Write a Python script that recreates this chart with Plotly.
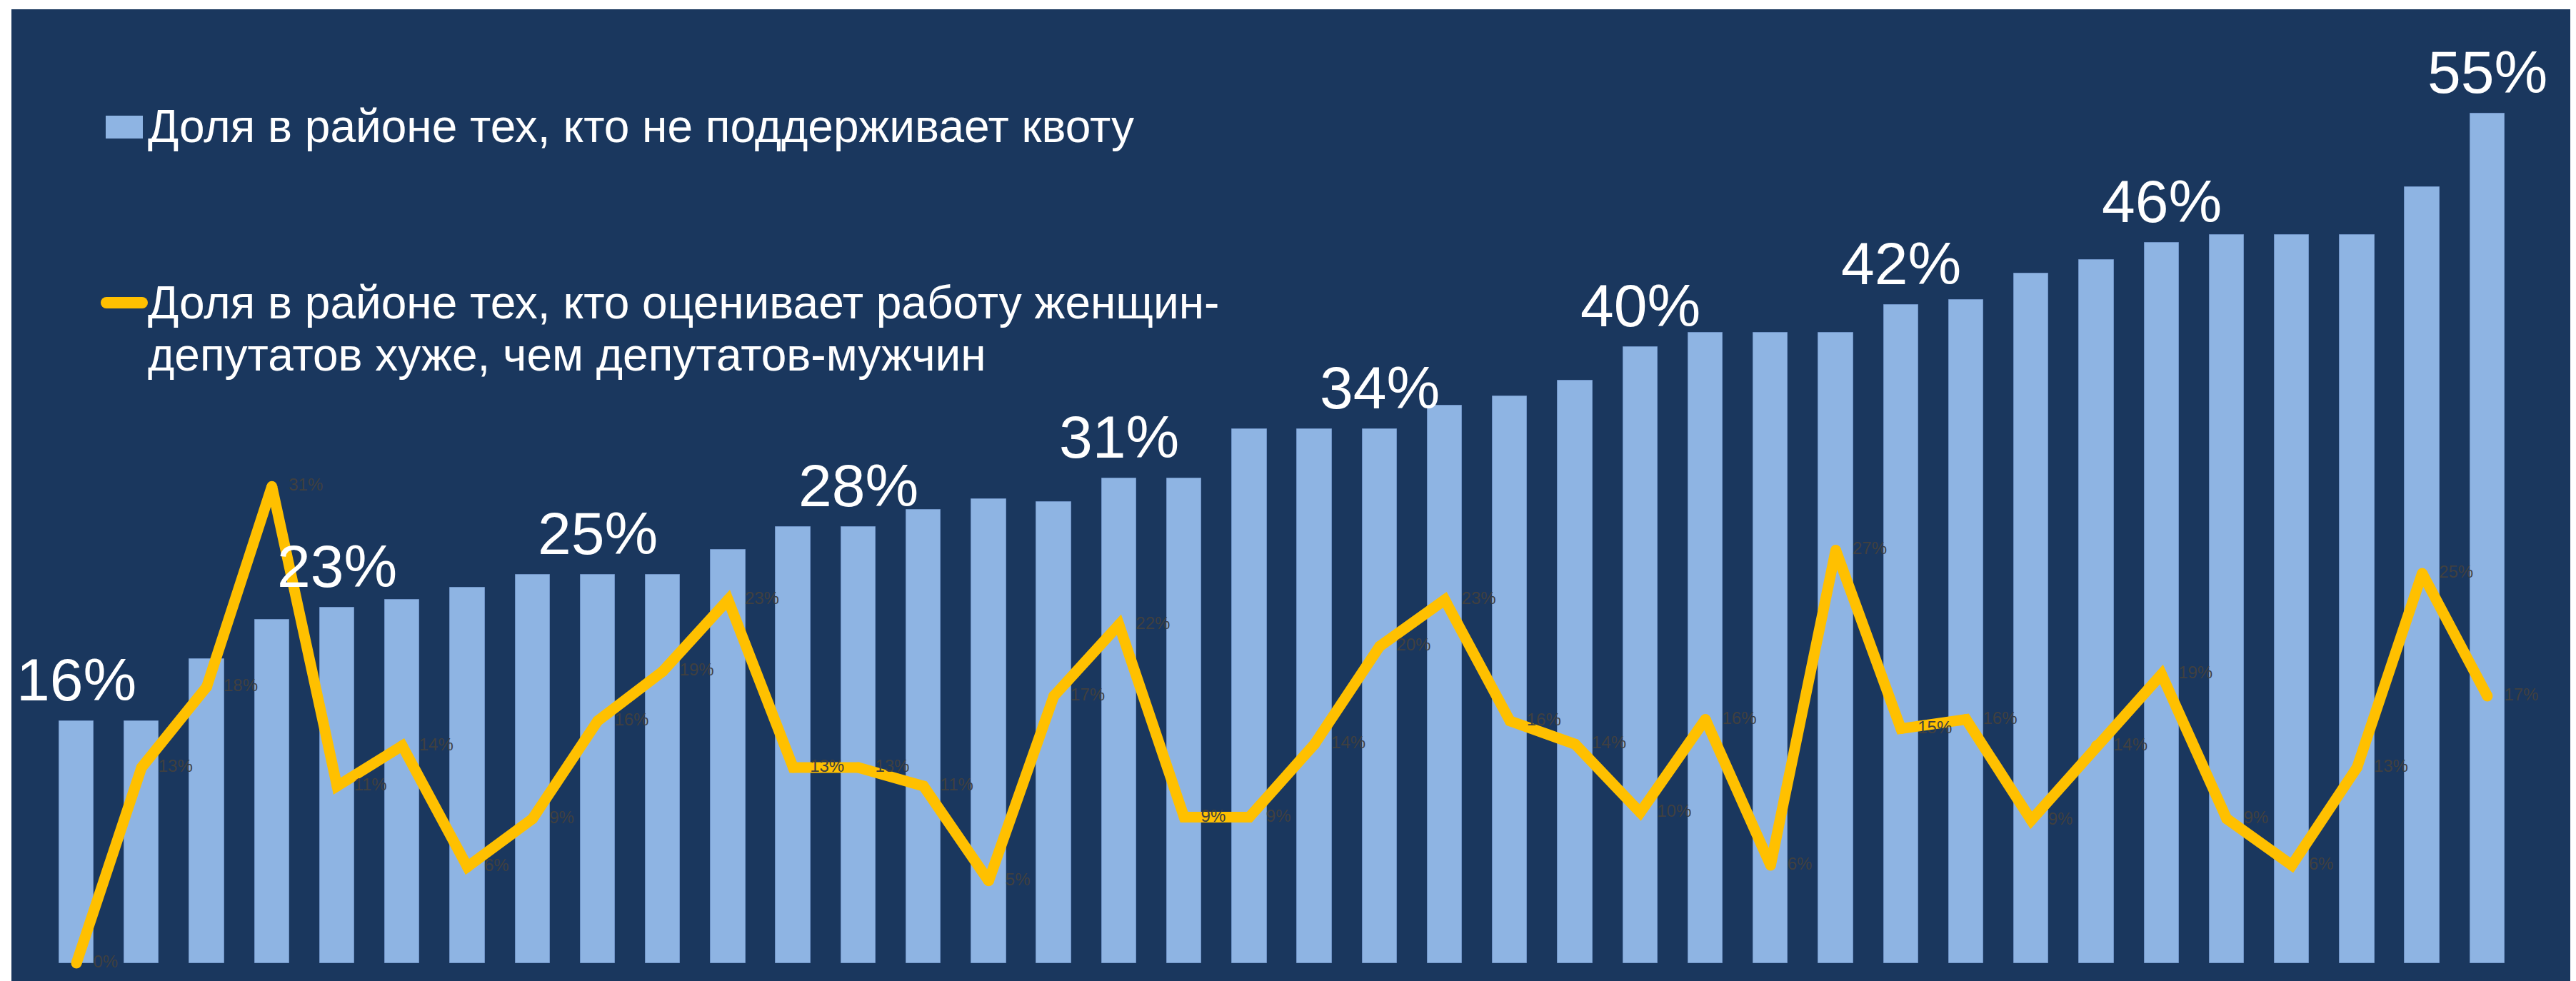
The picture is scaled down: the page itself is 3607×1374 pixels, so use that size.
import plotly.graph_objects as go

# ---------------- data ----------------
districts = list(range(38))
share_against_quota = [15.6, 15.6, 19.6, 22.1, 22.9, 23.4, 24.2, 25.0, 25.0, 25.0,
                       26.6, 28.1, 28.1, 29.2, 29.9, 29.7, 31.2, 31.2, 34.4, 34.4,
                       34.4, 35.9, 36.5, 37.5, 39.7, 40.6, 40.6, 40.6, 42.4, 42.7,
                       44.4, 45.3, 46.4, 46.9, 46.9, 46.9, 50.0, 54.7]
share_women_worse = [0.0, 12.6, 17.8, 30.7, 11.4, 14.0, 6.2, 9.3, 15.6, 18.8,
                     23.4, 12.6, 12.6, 11.4, 5.3, 17.2, 21.8, 9.4, 9.4, 14.1,
                     20.4, 23.4, 15.6, 14.1, 9.7, 15.7, 6.3, 26.6, 15.1, 15.7,
                     9.2, 14.0, 18.6, 9.3, 6.3, 12.6, 25.1, 17.2]
labeled_bars = [0, 4, 8, 12, 16, 20, 24, 28, 32, 37]
legend_bar = "Доля в районе тех, кто не поддерживает квоту"
legend_line = ["Доля в районе тех, кто оценивает работу женщин-",
               "депутатов хуже, чем депутатов-мужчин"]

# ---------------- style / layout ----------------
W, H = 3607, 1374
OFF = 8                # browser body margin
ML, MT = 16, 13        # page px where the dark plot area starts
PW, PH = W - ML, H - MT
BG = "#1A375E"
BAR = "#8EB4E3"
YEL = "#FFC000"
FONT = "Liberation Sans, Arial, sans-serif"

PITCH = 91.24          # px per category
X0PX = 107             # page px centre of first category
BASE = 1349            # page px of zero line
K = 21.75              # px per percent


def px(x):
    return (x - ML) / PW


def py(y):
    return 1 - (y - MT) / PH


fig = go.Figure()

fig.add_trace(go.Bar(
    x=districts, y=share_against_quota, width=0.53,
    marker=dict(color=BAR, line=dict(color="#6F93C6", width=1)),
    name=legend_bar, hoverinfo="skip"))

fig.add_trace(go.Scatter(
    x=districts, y=share_women_worse, mode="lines+markers",
    line=dict(color=YEL, width=15),
    marker=dict(color=YEL, size=15),
    name=" ".join(legend_line), hoverinfo="skip"))

fig.add_trace(go.Scatter(
    x=districts, y=share_women_worse, mode="markers+text",
    marker=dict(color="rgba(0,0,0,0)", size=36),
    text=[f"{v:.0f}%" for v in share_women_worse],
    textposition="middle right",
    textfont=dict(family=FONT, size=24, color="#404040"),
    hoverinfo="skip", showlegend=False, cliponaxis=False))

annotations = []
for i in labeled_bars:
    annotations.append(dict(
        x=districts[i], y=share_against_quota[i], xref="x", yref="y",
        text=f"{share_against_quota[i]:.0f}%", showarrow=False,
        yanchor="bottom", xanchor="center", yshift=9,
        font=dict(family=FONT, size=84, color="white")))

# custom legend
LEG_FS = 64
annotations.append(dict(x=px(205), y=py(177), xref="paper", yref="paper",
                        text=legend_bar, showarrow=False, xanchor="left",
                        yanchor="middle",
                        font=dict(family=FONT, size=LEG_FS, color="white")))
annotations.append(dict(x=px(205), y=py(424), xref="paper", yref="paper",
                        text=legend_line[0], showarrow=False, xanchor="left",
                        yanchor="middle",
                        font=dict(family=FONT, size=LEG_FS, color="white")))
annotations.append(dict(x=px(205), y=py(497), xref="paper", yref="paper",
                        text=legend_line[1], showarrow=False, xanchor="left",
                        yanchor="middle",
                        font=dict(family=FONT, size=LEG_FS, color="white")))

shapes = [
    dict(type="rect", xref="paper", yref="paper", x0=px(148), x1=px(200),
         y0=py(194), y1=py(162), fillcolor=BAR, line=dict(width=0)),
    dict(type="rect", xref="paper", yref="paper", x0=px(149), x1=px(199),
         y0=py(432), y1=py(416), fillcolor=YEL, line=dict(width=0)),
    dict(type="circle", xref="paper", yref="paper", x0=px(141), x1=px(157),
         y0=py(432), y1=py(416), fillcolor=YEL, line=dict(width=0)),
    dict(type="circle", xref="paper", yref="paper", x0=px(191), x1=px(207),
         y0=py(432), y1=py(416), fillcolor=YEL, line=dict(width=0)),
]

xr0 = (ML - X0PX) / PITCH
xr1 = (W - X0PX) / PITCH
yr0 = -(H - BASE) / K
yr1 = (BASE - MT) / K

fig.update_layout(
    width=W - OFF, height=H - OFF, autosize=False,
    margin=dict(l=ML - OFF, r=0, t=MT - OFF, b=0, pad=0),
    paper_bgcolor="white", plot_bgcolor=BG,
    showlegend=False, bargap=0,
    xaxis=dict(range=[xr0, xr1], visible=False, fixedrange=True),
    yaxis=dict(range=[yr0, yr1], visible=False, fixedrange=True),
    annotations=annotations, shapes=shapes,
    font=dict(family=FONT),
)

fig.write_html("out.html", config={"displayModeBar": False})
